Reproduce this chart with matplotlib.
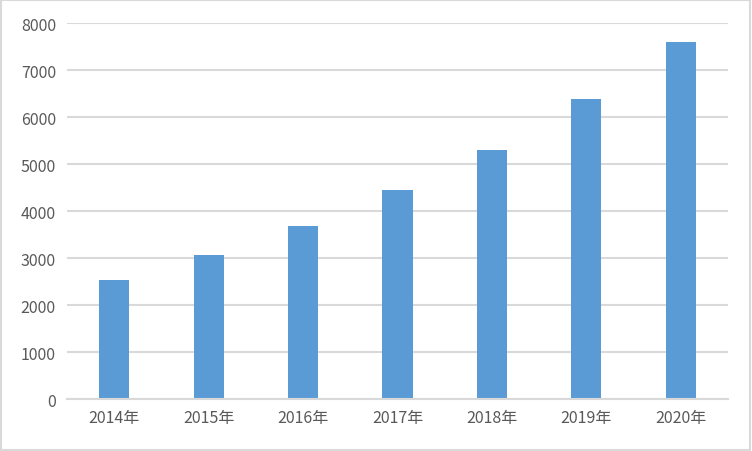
import matplotlib
matplotlib.use("Agg")
import matplotlib.pyplot as plt
from matplotlib.patches import Rectangle

plt.rcParams['font.family'] = ['Noto Sans CJK SC', 'DejaVu Sans']

years = ["2014年", "2015年", "2016年", "2017年", "2018年", "2019年", "2020年"]
values = [2540, 3070, 3690, 4450, 5300, 6390, 7600]
yticks = [0, 1000, 2000, 3000, 4000, 5000, 6000, 7000, 8000]

fig = plt.figure(figsize=(7.52, 4.52), dpi=100)
ax = fig.add_axes([0.0891, 0.1144, 0.8789, 0.8325])

x = range(len(years))
ax.bar(x, values, width=0.32, color="#5B9BD5", zorder=3)
ax.set_xlim(-0.5, len(years) - 0.5)
ax.set_ylim(0, 8000)
ax.set_yticks(yticks)
ax.set_yticklabels([str(v) for v in yticks])
ax.set_xticks(list(x))
ax.set_xticklabels(years)

ax.grid(axis='y', color="#d9d9d9", linewidth=1.5, zorder=0)
for s in ['top', 'right', 'left']:
    ax.spines[s].set_visible(False)
ax.spines['bottom'].set_color("#d9d9d9")
ax.spines['bottom'].set_linewidth(1.5)
ax.spines['bottom'].set_zorder(4)
ax.tick_params(axis='both', length=0, colors="#595959", labelsize=11.5)
ax.tick_params(axis='y', pad=8)
ax.tick_params(axis='x', pad=7)

fig.patches.append(Rectangle((0.001, 0.002), 0.997, 0.995, transform=fig.transFigure,
                             fill=False, edgecolor="#d9d9d9", linewidth=1.5))

fig.savefig("out.png", dpi=100)
